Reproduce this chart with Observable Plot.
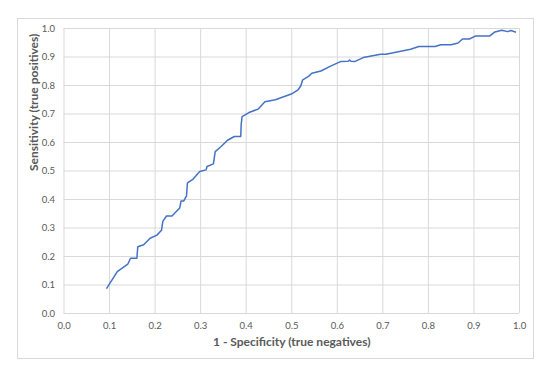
<!DOCTYPE html>
<html><head><meta charset="utf-8">
<script src="https://cdn.jsdelivr.net/npm/d3@7"></script>
<script src="https://cdn.jsdelivr.net/npm/@observablehq/plot@0.6"></script>
<style>
body{margin:0;background:#fff;}
#wrap{position:relative;width:550px;height:376px;}
#frame{position:absolute;left:17px;top:18px;width:515px;height:339px;border:1px solid #d9d9d9;}
#wrap svg{position:absolute;left:0;top:0;}
</style>
</head><body>
<div id="wrap"><div id="frame"></div></div>
<script>
const fpr = [0.094,0.117,0.140,0.146,0.160,0.162,0.175,0.189,0.204,0.214,0.217,0.225,0.237,0.254,0.257,0.263,0.269,0.271,0.283,0.298,0.312,0.314,0.328,0.332,0.345,0.359,0.374,0.388,0.389,0.391,0.406,0.426,0.441,0.464,0.499,0.514,0.520,0.524,0.537,0.544,0.564,0.584,0.607,0.624,0.627,0.630,0.638,0.657,0.695,0.707,0.761,0.779,0.815,0.827,0.850,0.865,0.875,0.890,0.904,0.935,0.946,0.961,0.974,0.981,0.991];
const tpr = [0.089,0.147,0.173,0.194,0.194,0.234,0.241,0.264,0.275,0.292,0.323,0.342,0.342,0.370,0.395,0.395,0.413,0.458,0.471,0.498,0.504,0.516,0.525,0.568,0.586,0.608,0.621,0.621,0.664,0.691,0.705,0.717,0.743,0.750,0.770,0.785,0.799,0.820,0.832,0.843,0.851,0.867,0.884,0.885,0.889,0.885,0.884,0.898,0.910,0.910,0.927,0.937,0.937,0.943,0.943,0.949,0.963,0.963,0.974,0.974,0.988,0.994,0.989,0.993,0.988];
const xTicks = [0,0.1,0.2,0.3,0.4,0.5,0.6,0.7,0.8,0.9,1.0];
const yTicks = [0,0.1,0.2,0.3,0.4,0.5,0.6,0.7,0.8,0.9,1.0];
const xTitle = "1 - Specificity (true negatives)";
const yTitle = "Sensitivity (true positives)";

const data = fpr.map((x, i) => ({x, y: tpr[i]}));
const fmt = d3.format(".1f");

const chart = Plot.plot({
  width: 550, height: 376,
  marginLeft: 63.5, marginRight: 31, marginTop: 28, marginBottom: 63,
  style: {fontFamily: "Lato, sans-serif", background: "transparent", color: "#595959"},
  x: {domain: [0, 1]},
  y: {domain: [0, 1]},
  marks: [
    Plot.gridX(xTicks, {stroke: "#d9d9d9", strokeOpacity: 1}),
    Plot.gridY(yTicks, {stroke: "#d9d9d9", strokeOpacity: 1}),
    Plot.axisX(xTicks, {tickSize: 0, tickPadding: 9, tickFormat: fmt, fontSize: 9.5, label: null}),
    Plot.axisY(yTicks, {tickSize: 0, tickPadding: 9, tickFormat: fmt, fontSize: 9.5, label: null}),
    Plot.text([xTitle], {frameAnchor: "bottom", dy: 29, lineAnchor: "middle", fontSize: 12, fontWeight: "bold", fill: "#595959"}),
    Plot.text([yTitle], {frameAnchor: "left", dx: -30, rotate: -90, lineAnchor: "middle", fontSize: 12, fontWeight: "bold", fill: "#595959"}),
    Plot.line(data, {x: "x", y: "y", stroke: "#4472c4", strokeWidth: 1.5})
  ]
});
document.getElementById("wrap").appendChild(chart);
</script>
</body></html>
